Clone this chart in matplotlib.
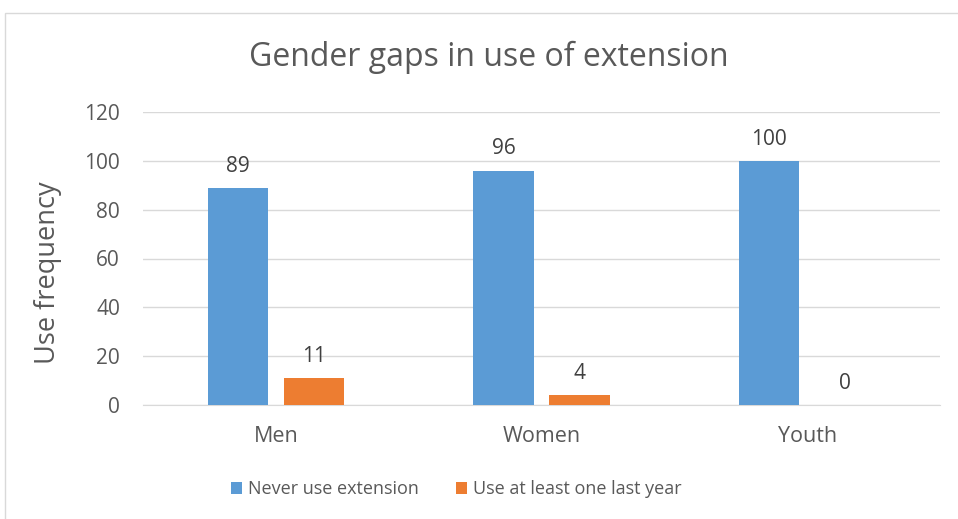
import matplotlib
matplotlib.use('Agg')
import matplotlib.pyplot as plt
import numpy as np
from matplotlib.patches import Rectangle

# Data
groups = ['Men', 'Women', 'Youth']
never_use = [89, 96, 100]
used_last_year = [11, 4, 0]
series_names = ['Never use extension', 'Use at least one last year']
yticks = [0, 20, 40, 60, 80, 100, 120]

blue = '#5B9BD5'
orange = '#ED7D31'
text_col = '#595959'
grid_col = '#D9D9D9'

plt.rcParams.update({
    'font.family': ['Open Sans', 'DejaVu Sans'],
    'font.size': 13,
    'text.color': text_col,
    'axes.labelcolor': text_col,
    'xtick.color': text_col,
    'ytick.color': text_col,
})

fig = plt.figure(figsize=(9.58, 5.19), dpi=100)
# outer chart border (runs off the right and bottom edges)
fig.patches.append(Rectangle((5 / 958, -0.1), 1.2, 1 - 13 / 519 + 0.1,
                             transform=fig.transFigure, fill=False,
                             edgecolor='#D9D9D9', linewidth=1))

ax = fig.add_axes([143 / 958, 1 - 405 / 519, (940 - 143) / 958, (405 - 112) / 519])

x = np.arange(len(groups))
w = 0.226
gap = 0.06
off = (w + gap) / 2

b1 = ax.bar(x - off, never_use, w, color=blue, label=series_names[0], zorder=3)
b2 = ax.bar(x + off, used_last_year, w, color=orange, label=series_names[1], zorder=3)

for bars, vals in ((b1, never_use), (b2, used_last_year)):
    for rect, v in zip(bars, vals):
        ax.annotate(f'{v}', (rect.get_x() + rect.get_width() / 2, v),
                    textcoords='offset points', xytext=(0, 8),
                    ha='center', va='bottom', fontsize=15, color='#404040')

ax.set_xlim(-0.5, 2.5)
ax.set_ylim(0, 120)
ax.set_yticks(yticks)
ax.set_xticks(x)
ax.set_xticklabels(groups)
ax.tick_params(length=0)
ax.tick_params(axis='x', pad=15, labelsize=15.5)
ax.tick_params(axis='y', pad=16.5, labelsize=15)

ax.grid(axis='y', color=grid_col, linewidth=1, zorder=0)
for s in ('top', 'right', 'left'):
    ax.spines[s].set_visible(False)
ax.spines['bottom'].set_color(grid_col)

ax.set_ylabel('Use frequency', fontsize=19.5)
ax.yaxis.set_label_coords(-0.102, 0.45)
fig.text(489 / 958, 1 - 57 / 519, 'Gender gaps in use of extension',
         ha='center', va='center', fontsize=23, color=text_col)

fig.legend(handles=[b1, b2], loc='center', bbox_to_anchor=(456 / 958, 1 - 489 / 519),
           ncol=2, frameon=False, fontsize=13, handlelength=0.65, handleheight=0.65,
           handletextpad=0.3, columnspacing=2.05)

fig.savefig('out.png', dpi=100)
